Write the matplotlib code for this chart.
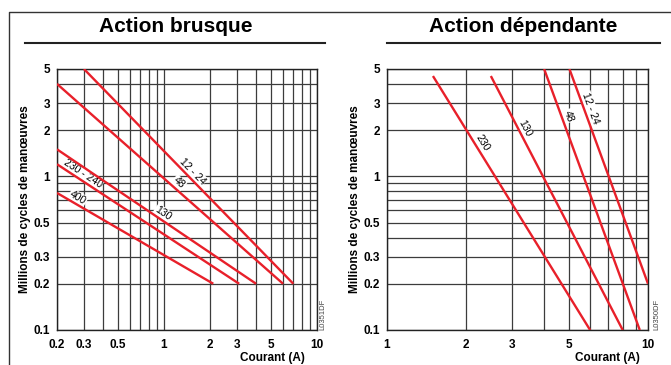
import numpy as np
import matplotlib.pyplot as plt
from matplotlib.lines import Line2D
from matplotlib.ticker import FixedLocator, NullFormatter

plt.rcParams['font.family'] = ['Liberation Sans', 'DejaVu Sans']

RED = '#e8202a'
GRID = '#3c3c3c'

# cycle-life curves: (current A, millions of cycles) at both ends of each line
brusque_labels = ['12 - 24', '48', '130', '230 - 240', '400']
brusque_i = [(0.3, 7.0), (0.2, 6.0), (0.2, 4.0), (0.2, 3.1), (0.2, 2.1)]
brusque_n = [(5.0, 0.2), (4.0, 0.2), (1.5, 0.2), (1.2, 0.2), (0.78, 0.2)]
brusque_text_at = [(1.52, 1.07), (1.24, 0.90), (0.99, 0.575), (0.29, 1.02), (0.276, 0.737)]

dep_labels = ['12 - 24', '48', '130', '230']
dep_i = [(5.0, 10.0), (4.0, 9.3), (2.5, 8.0), (1.5, 6.0)]
dep_n = [(5.0, 0.2), (5.0, 0.1), (4.5, 0.1), (4.5, 0.1)]
dep_text_at = [(6.03, 2.78), (4.85, 2.44), (3.38, 2.06), (2.31, 1.64)]

y_ticks = [0.1, 0.2, 0.3, 0.5, 1, 2, 3, 5]
y_tick_labels = ['0.1', '0.2', '0.3', '0.5', '1', '2', '3', '5']
y_grid = [0.4, 0.6, 0.7, 0.8, 0.9, 4]

brusque_xticks = [0.2, 0.3, 0.5, 1, 2, 3, 5, 10]
brusque_xlabels = ['0.2', '0.3', '0.5', '1', '2', '3', '5', '10']
brusque_xgrid = [0.4, 0.6, 0.7, 0.8, 0.9, 4, 6, 7, 8, 9]

dep_xticks = [1, 2, 3, 5, 10]
dep_xlabels = ['1', '2', '3', '5', '10']
dep_xgrid = [4, 6, 7, 8, 9]

W, H = 671, 365
fig = plt.figure(figsize=(W / 100, H / 100), dpi=100)


def px(x, y):
    return x / W, 1 - y / H


def setup(ax, xlim, xticks, xlabels, xgrid, xlabel_at):
    ax.set_xscale('log')
    ax.set_yscale('log')
    ax.set_xlim(*xlim)
    ax.set_ylim(0.1, 5)
    ax.xaxis.set_major_locator(FixedLocator(xticks))
    ax.xaxis.set_minor_locator(FixedLocator(xgrid))
    ax.yaxis.set_major_locator(FixedLocator(y_ticks))
    ax.yaxis.set_minor_locator(FixedLocator(y_grid))
    ax.set_xticklabels(xlabels, fontweight='bold', fontsize=8.5)
    ax.set_yticklabels(y_tick_labels, fontweight='bold', fontsize=8.5)
    ax.xaxis.set_minor_formatter(NullFormatter())
    ax.yaxis.set_minor_formatter(NullFormatter())
    ax.tick_params(which='both', length=0)
    ax.tick_params(axis='x', pad=6.5)
    ax.tick_params(axis='y', pad=5)
    ax.grid(which='both', color=GRID, lw=0.9)
    ax.set_axisbelow(True)
    for s in ax.spines.values():
        s.set_color('#222222')
        s.set_linewidth(1.0)
    ax.set_ylabel('Millions de cycles de manœuvres', fontweight='bold', fontsize=8.5, labelpad=2)
    ax.set_xlabel('Courant (A)', fontweight='bold', fontsize=8.5, ha='right', va='top')
    ax.xaxis.set_label_coords(xlabel_at, -0.083)


def draw_curves(ax, labels, currents, cycles, text_at, gap=6.5):
    for lab, xs, ys, t in zip(labels, currents, cycles, text_at):
        ax.plot(xs, ys, color=RED, lw=1.7, zorder=3, solid_capstyle='butt')
        p0 = ax.transData.transform((xs[0], ys[0]))
        p1 = ax.transData.transform((xs[1], ys[1]))
        d = (p1 - p0) / np.hypot(*(p1 - p0))
        ang = np.degrees(np.arctan2(d[1], d[0]))
        # slide the label onto the line, then push it off to the upper-right side
        pt = ax.transData.transform(t)
        foot = p0 + np.dot(pt - p0, d) * d
        normal = np.array([-d[1], d[0]])
        pos = foot + gap * normal
        tx, ty = ax.transData.inverted().transform(pos)
        ax.text(tx, ty, lab, rotation=ang, rotation_mode='anchor', ha='center', va='center',
                fontsize=7.5, zorder=2.5,
                bbox=dict(facecolor='white', edgecolor='none', pad=0.6))


ax1 = fig.add_axes([57 / W, 1 - 330 / H, 260 / W, 261 / H])
setup(ax1, (0.2, 10), brusque_xticks, brusque_xlabels, brusque_xgrid, (305 - 57) / 260)
draw_curves(ax1, brusque_labels, brusque_i, brusque_n, brusque_text_at)

ax2 = fig.add_axes([387 / W, 1 - 330 / H, 261 / W, 261 / H])
setup(ax2, (1, 10), dep_xticks, dep_xlabels, dep_xgrid, (640 - 387) / 261)
draw_curves(ax2, dep_labels, dep_i, dep_n, dep_text_at)

# reference codes along the right edge of each chart
fig.text(*px(323, 330), 'L0351DF', rotation=90, fontsize=5.5, color='#444444', ha='center', va='bottom')
fig.text(*px(657, 330), 'L0350DF', rotation=90, fontsize=5.5, color='#444444', ha='center', va='bottom')

# panel titles with their rules
fig.text(*px(176, 26), 'Action brusque', fontweight='bold', fontsize=15, ha='center', va='center')
fig.text(*px(523, 26), 'Action dépendante', fontweight='bold', fontsize=15, ha='center', va='center')
for x0, x1 in [(25, 325), (387, 660)]:
    fig.add_artist(Line2D([x0 / W, x1 / W], [1 - 43 / H] * 2, color='#222222', lw=1.5))

# outer frame (left and top)
fig.add_artist(Line2D([9 / W, 9 / W, 1], [0, 1 - 12 / H, 1 - 12 / H], color='#333333', lw=1.0))

fig.savefig('out.png', dpi=100)
